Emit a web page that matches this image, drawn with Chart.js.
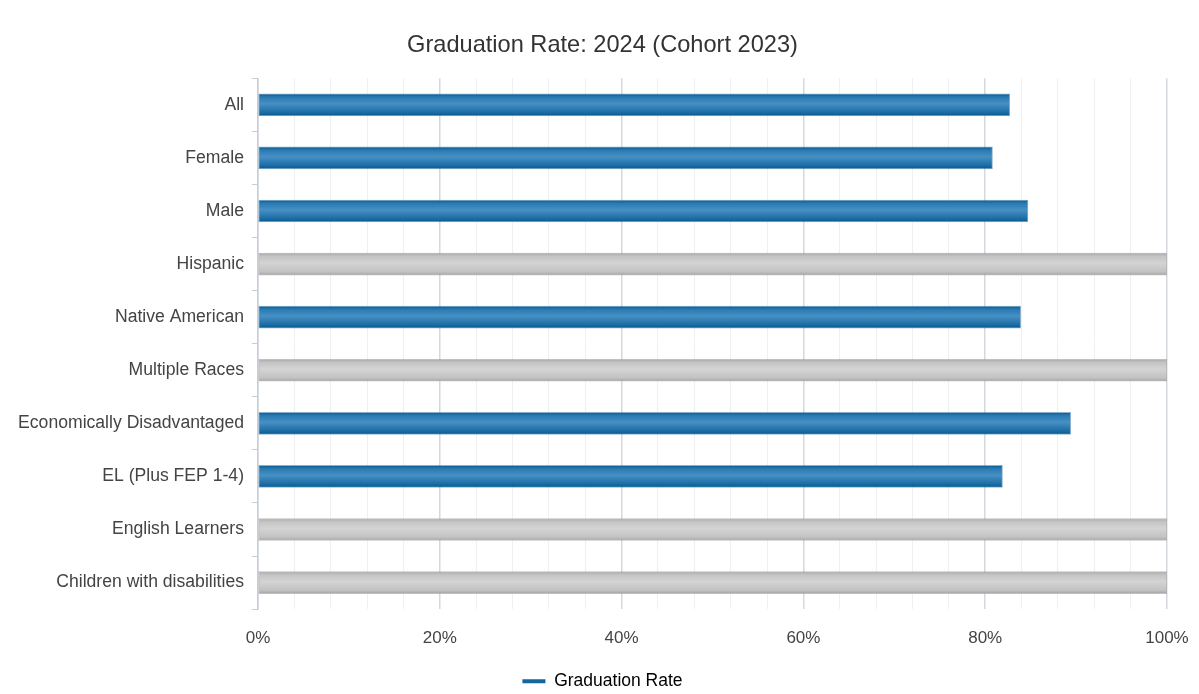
<!DOCTYPE html>
<html>
<head>
<meta charset="utf-8">
<title>Graduation Rate</title>
<script src="https://cdn.jsdelivr.net/npm/chart.js@4/dist/chart.umd.min.js"></script>
<style>
  body { margin: 0; background: #fff; }
  #wrap { width: 1199px; height: 694px; position: relative; }
</style>
</head>
<body>
<div id="wrap"><canvas id="gradChart" width="1199" height="694"></canvas></div>
<script>
// groups shown on the y axis
const groups = [
  'All', 'Female', 'Male', 'Hispanic', 'Native American', 'Multiple Races',
  'Economically Disadvantaged', 'EL (Plus FEP 1-4)', 'English Learners',
  'Children with disabilities'
];
// graduation rate in percent
const rates = [82.7, 80.8, 84.7, 100, 83.9, 100, 89.4, 81.9, 100, 100];
// true where the group has no reported rate (drawn as a grey full bar)
const suppressed = [false, false, false, true, false, true, false, false, true, true];
const xTicks = [0, 20, 40, 60, 80, 100];

const FONT = "'Liberation Sans', Arial, sans-serif";
const PAD_LEFT = 10;

function barFill(ctx) {
  const chart = ctx.chart;
  if (!chart.chartArea || ctx.dataIndex === undefined) return '#1f6fa8';
  const yc = chart.scales.y.getPixelForValue(ctx.dataIndex);
  const h = 22;
  const g = chart.ctx.createLinearGradient(0, yc - h / 2, 0, yc + h / 2);
  if (suppressed[ctx.dataIndex]) {
    g.addColorStop(0, '#a9a9a9');
    g.addColorStop(0.15, '#c4c4c4');
    g.addColorStop(0.45, '#d4d4d4');
    g.addColorStop(0.85, '#c2c2c2');
    g.addColorStop(1, '#a3a3a3');
  } else {
    g.addColorStop(0, '#0a5c92');
    g.addColorStop(0.15, '#2a7ab2');
    g.addColorStop(0.45, '#4690c4');
    g.addColorStop(0.85, '#1b6ca5');
    g.addColorStop(1, '#06568c');
  }
  return g;
}

// nudge title and legend to where they sit in the original
const shiftBlocks = {
  id: 'shiftBlocks',
  beforeLayout(chart) {
    const lg = chart.legend;
    if (lg && !lg._trimmed) {
      const fit = lg.fit.bind(lg);
      lg.fit = function () { fit(); this.height -= 7; };
      lg._trimmed = true;
    }
  },
  afterLayout(chart) {
    [chart.titleBlock, chart.legend].forEach((b) => {
      if (b) { b.left += 14; b.right += 14; }
    });
    if (chart.legend) { chart.legend.top -= 1; chart.legend.bottom -= 1; }
  }
};

new Chart(document.getElementById('gradChart'), {
  type: 'bar',
  data: {
    labels: groups,
    datasets: [{
      label: 'Graduation Rate',
      data: rates,
      backgroundColor: barFill,
      borderColor: (ctx) => suppressed[ctx.dataIndex] ? 'rgba(150,150,150,0.6)' : 'rgba(40,110,160,0.55)',
      borderWidth: 1,
      borderSkipped: false,
      barThickness: 22
    }]
  },
  options: {
    indexAxis: 'y',
    responsive: false,
    animation: false,
    layout: { padding: { left: PAD_LEFT, right: 32, top: 6, bottom: 0 } },
    plugins: {
      title: {
        display: true,
        text: 'Graduation Rate: 2024 (Cohort 2023)',
        color: '#333',
        font: { family: FONT, size: 23.6, weight: 'normal' },
        padding: { top: 25, bottom: 19 }
      },
      legend: {
        position: 'bottom',
        labels: {
          color: '#333',
          font: { family: FONT, size: 17.5 },
          boxWidth: 23,
          boxHeight: 4,
          padding: 6,
          generateLabels: () => [{
            text: 'Graduation Rate',
            fillStyle: '#1565a0',
            strokeStyle: '#1565a0',
            lineWidth: 0,
            datasetIndex: 0
          }]
        }
      },
      tooltip: { enabled: false }
    },
    scales: {
      x: {
        min: 0,
        max: 100,
        afterBuildTicks: (axis) => {
          const t = [];
          for (let v = 0; v <= 100; v += 4) t.push({ value: v });
          axis.ticks = t;
        },
        afterFit: (axis) => { axis.paddingLeft = 0; axis.paddingRight = 0; },
        ticks: {
          autoSkip: false,
          maxRotation: 0,
          color: '#444',
          font: { family: FONT, size: 17 },
          padding: 19,
          callback: (v) => xTicks.includes(v) ? v + '%' : ''
        },
        grid: {
          drawTicks: false,
          color: (ctx) => xTicks.includes(ctx.tick.value) ? '#d3d9df' : '#eef1f3',
          lineWidth: (ctx) => xTicks.includes(ctx.tick.value) ? 1.5 : 1
        },
        border: { display: false }
      },
      y: {
        afterFit: (axis) => { axis.width = 258 - PAD_LEFT; },
        ticks: {
          color: '#444',
          font: { family: FONT, size: 17.6 },
          padding: 8
        },
        grid: {
          offset: true,
          drawOnChartArea: false,
          tickLength: 6,
          color: '#c5ced6'
        },
        border: { display: true, color: '#c5ced6', width: 1.5 }
      }
    }
  },
  plugins: [shiftBlocks]
});
</script>
</body>
</html>
